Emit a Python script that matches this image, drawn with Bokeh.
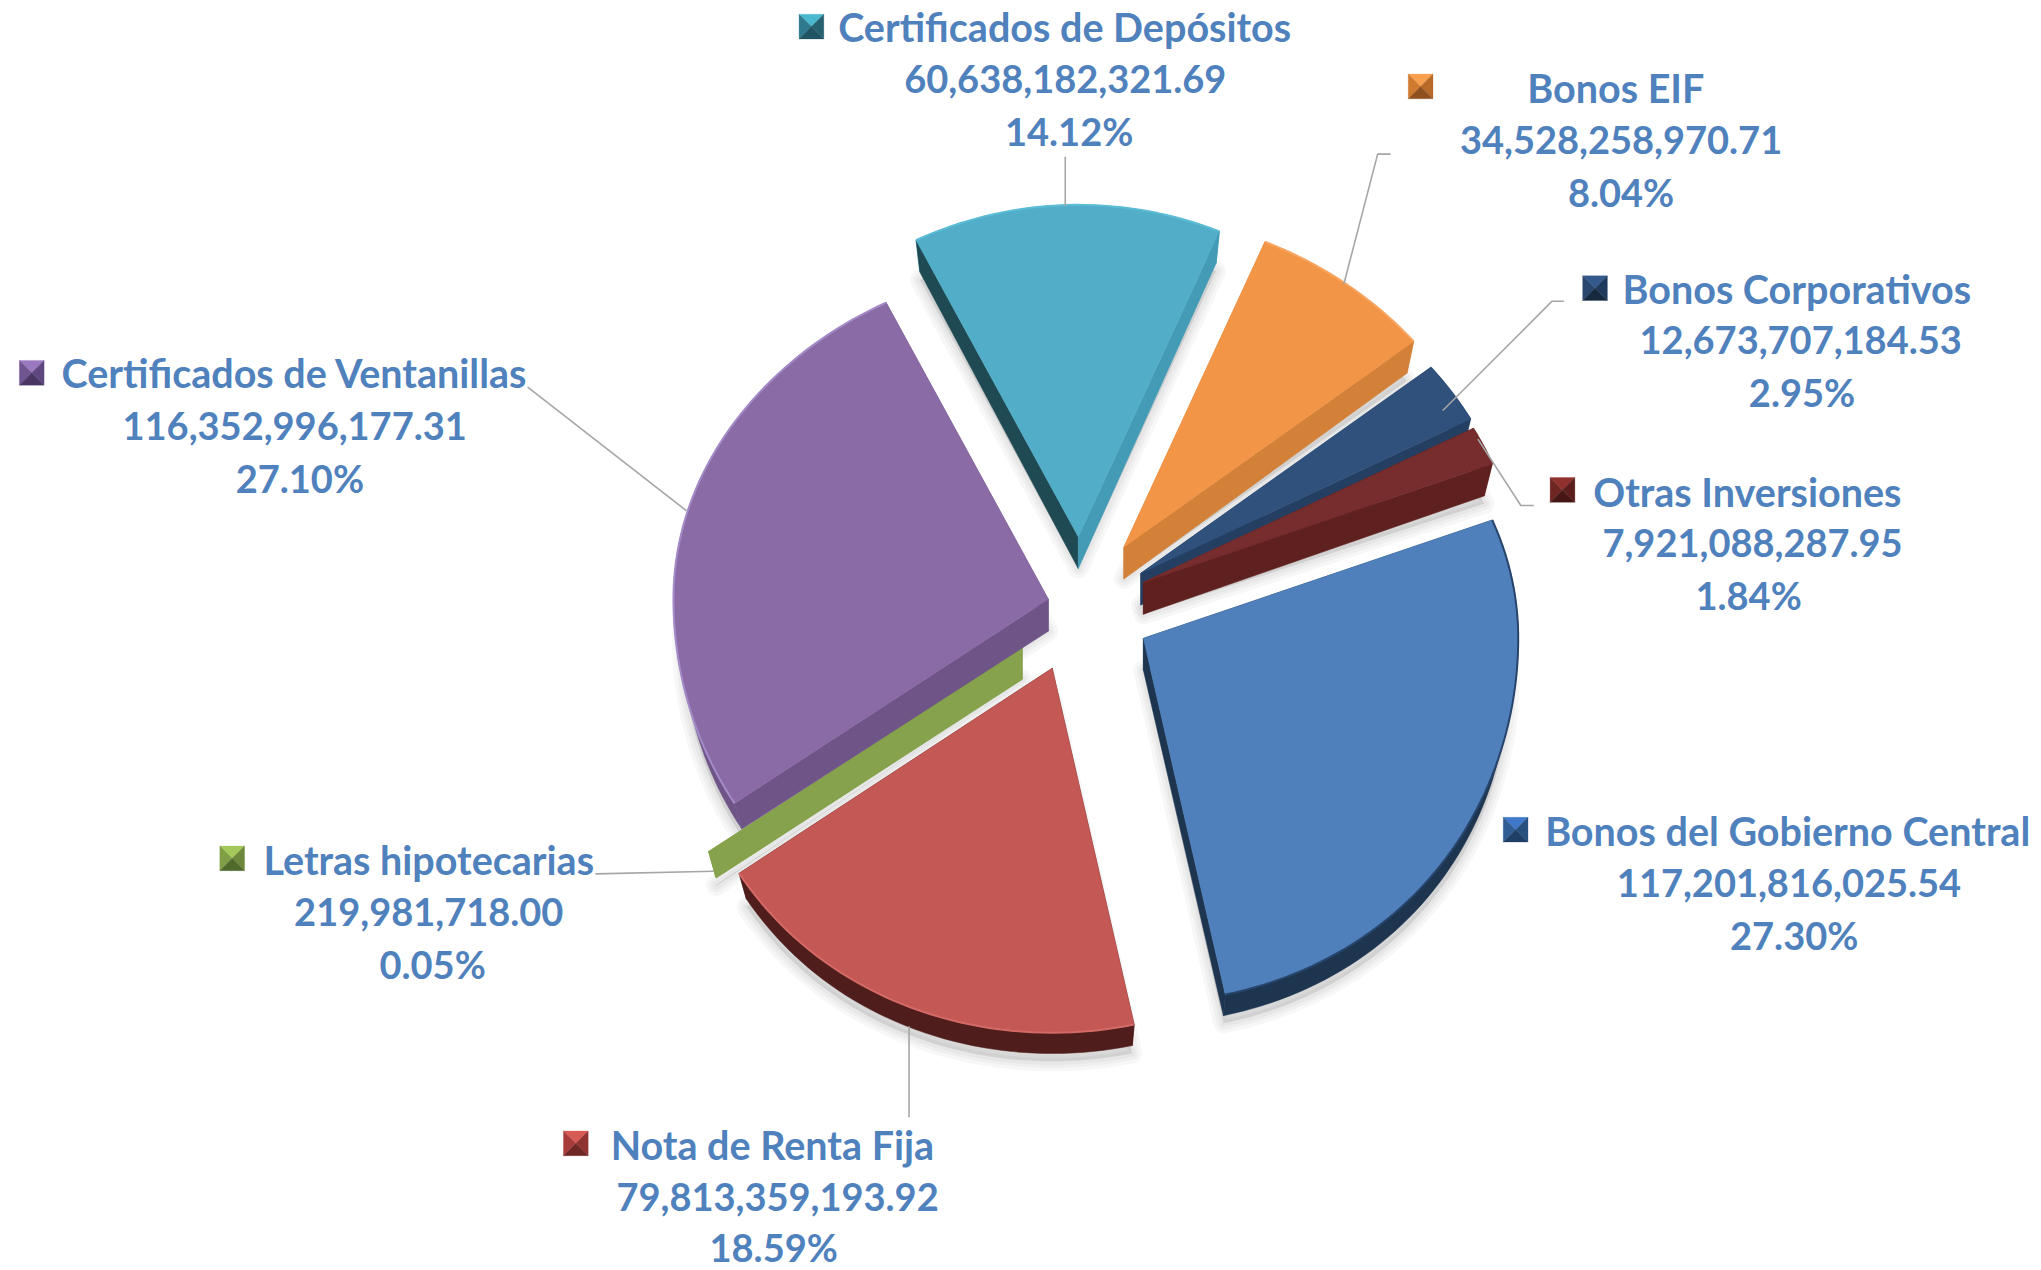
import math
from bokeh.plotting import figure
from bokeh.embed import file_html
from bokeh.resources import INLINE
from bokeh.core.properties import value

# ---- data
names = ["Bonos del Gobierno Central", "Nota de Renta Fija", "Letras hipotecarias",
         "Certificados de Ventanillas", "Certificados de Depósitos", "Bonos EIF",
         "Bonos Corporativos", "Otras Inversiones"]
amounts = [117201816025.54, 79813359193.92, 219981718.00, 116352996177.31,
           60638182321.69, 34528258970.71, 12673707184.53, 7921088287.95]

# ---- styles
top_col = ["#4f80bb", "#c35855", "#86a24c", "#8a6ba5", "#52aec8", "#f39547", "#30517b", "#772d2d"]
arc_wall = ["#1e3550", "#4f1e1c", "#86a24c", "#6f5488", "#439bb6", "#d38038", "#243f62", "#5f211f"]
start_wall = ["#1e3550", "#4f1e1c", "#86a24c", "#6f5488", "#1f4a54", "#d38038", "#243f62", "#5f211f"]
end_wall = ["#1e3550", "#4f1e1c", "#86a24c", "#6f5488", "#439bb6", "#d38038", "#243f62", "#5f211f"]
rim_col = ["#27456c", "#d46a66", "#86a24c", "#a48bc8", "#5bbcd6", "#f7a560", "#30517b", "#772d2d"]
key_tones = [("#3f78c8", "#2f5d94", "#28507f", "#1f3f66"), ("#d85a55", "#a83c3a", "#8f3230", "#6f2725"),
             ("#a5c85a", "#7f9e45", "#6d883a", "#4f6a2c"), ("#9a78c0", "#6f5490", "#5f4780", "#4a3665"),
             ("#4bb8d0", "#2f7a8e", "#27606f", "#1f5562"), ("#f9a050", "#d07a30", "#b86a28", "#8f5020"),
             ("#34598c", "#28466e", "#1f3a5c", "#16293f"), ("#90302c", "#6f2522", "#5c1e1c", "#451614")]
text_col = "#4f81bd"
leader_col = "#a6a6a6"

# ---- layout (in the 1568-wide sketch units, scaled below)
S = 2041 / 1568
apex = [(878, 490), (808, 513), (785, 497), (805, 460), (828, 412), (863, 420), (876, 440), (878, 447)]
START_DEG = 69.8
A, B_UP, B_DOWN = 288.0, 255.0, 280.0
draw_order = [4, 5, 6, 7, 2, 3, 1, 0]
label_pos = [
    [(1373, 638), (1374, 678), (1378, 718)],
    [(593, 879), (597, 919), (594, 958)],
    [(329, 660), (329, 700), (332, 740)],
    [(226, 286), (226, 327), (230, 367)],
    [(817.5, 20), (818, 60), (821, 100)],
    [(1241, 67), (1245, 107), (1245, 147)],
    [(1380, 221), (1383, 261), (1384, 301)],
    [(1342, 377), (1346, 417), (1343, 457)],
]
key_pos = [(1164, 637), (442, 878), (178, 659), (24, 286), (623, 20), (1091, 66), (1225, 221), (1200, 376)]
leaders = [
    [(818, 120), (818, 158)],
    [(1068, 118), (1058, 118), (1032, 218)],
    [(1201, 231), (1192, 231), (1108, 315)],
    [(1178, 388), (1168, 388), (1135, 337)],
    [(698, 788), (698, 858)],
    [(457, 671), (548, 669)],
    [(405, 297), (527, 392)],
]

p = figure(width=2041, height=1270, x_range=(0, 2041), y_range=(1270, 0),
           toolbar_location=None, output_backend="svg", x_axis_type=None, y_axis_type=None,
           min_border=0, outline_line_color=None, background_fill_color="white")
p.grid.visible = False


def rim_point(i, deg):
    t = math.radians(deg)
    s, c = math.sin(t), math.cos(t)
    fx = 1 - 0.07 * c * c if c > 0 else 1 + 0.06 * c * c
    b = (B_UP + B_DOWN) / 2 - (B_DOWN - B_UP) / 2 * c
    return apex[i][0] + A * fx * s, apex[i][1] - b * c


def lower(i, pt, c):
    d = 24.5 if c >= 0 else 24.5 + 8.5 * c
    ax = apex[i][0]
    return ax + (pt[0] - ax) * 0.977, pt[1] + d


total = sum(amounts)
angles = []
cur = START_DEG
for v in amounts:
    sweep = v / total * 360.0
    angles.append((cur, cur + sweep))
    cur += sweep

geom = []
for i in range(len(amounts)):
    a0, a1 = angles[i]
    n = max(2, int((a1 - a0) / 1.5) + 2)
    degs = [a0 + (a1 - a0) * k / (n - 1) for k in range(n)]
    top = [rim_point(i, d) for d in degs]
    low = [lower(i, pt, math.cos(math.radians(d))) for pt, d in zip(top, degs)]
    ap = apex[i]
    ap_low = (ap[0], ap[1] + 24.5)
    geom.append((top, low, ap, ap_low))


def X(pts):
    return [q[0] * S for q in pts]


def Y(pts):
    return [q[1] * S for q in pts]


# soft shadows
for i in draw_order:
    top, low, ap, ap_low = geom[i]
    poly = [ap_low] + [(q[0], q[1] + 6) for q in low]
    for w in (20, 13, 7):
        p.patch(X(poly), Y(poly), fill_color="#000000", fill_alpha=0.03,
                line_color="#000000", line_alpha=0.03, line_width=w, line_join="round")

# slices
for i in draw_order:
    top, low, ap, ap_low = geom[i]
    wall = top + low[::-1]
    p.patch(X(wall), Y(wall), fill_color=arc_wall[i], line_color=arc_wall[i], line_width=0.5)
    sw = [ap, top[0], low[0], ap_low]
    p.patch(X(sw), Y(sw), fill_color=start_wall[i], line_color=start_wall[i], line_width=0.5)
    ew = [ap, top[-1], low[-1], ap_low]
    p.patch(X(ew), Y(ew), fill_color=end_wall[i], line_color=end_wall[i], line_width=0.5)
    face = [ap] + top
    p.patch(X(face), Y(face), fill_color=top_col[i], line_color=top_col[i], line_width=0.5)
    p.line(X(top), Y(top), line_color=rim_col[i], line_width=2)

# leader lines
for pts in leaders:
    p.line(X(pts), Y(pts), line_color=leader_col, line_width=1.6)

# legend keys with bevelled faces
K = 9.5
for i, (kx, ky) in enumerate(key_pos):
    t, l, r, b = key_tones[i]
    ne, nw, se, sw_ = (kx + K, ky - K), (kx - K, ky - K), (kx + K, ky + K), (kx - K, ky + K)
    mid = (kx, ky)
    for tri, col in (([nw, ne, mid], t), ([nw, sw_, mid], l), ([ne, se, mid], r), ([sw_, se, mid], b)):
        p.patch(X(tri), Y(tri), fill_color=col, line_color=col, line_width=0.3)

# labels
for i in range(len(names)):
    lines = [names[i], f"{amounts[i]:,.2f}", f"{amounts[i] / total * 100:.2f}%"]
    sizes = ["39.5px", "38px", "38px"]
    for txt, (tx, ty), fs in zip(lines, label_pos[i], sizes):
        p.text([tx * S], [ty * S], text=[txt], text_color=text_col, text_font=value("Lato"),
               text_font_style="bold", text_font_size=fs, text_align="center",
               text_baseline="middle")

open("out.html", "w").write(file_html(p, INLINE))
